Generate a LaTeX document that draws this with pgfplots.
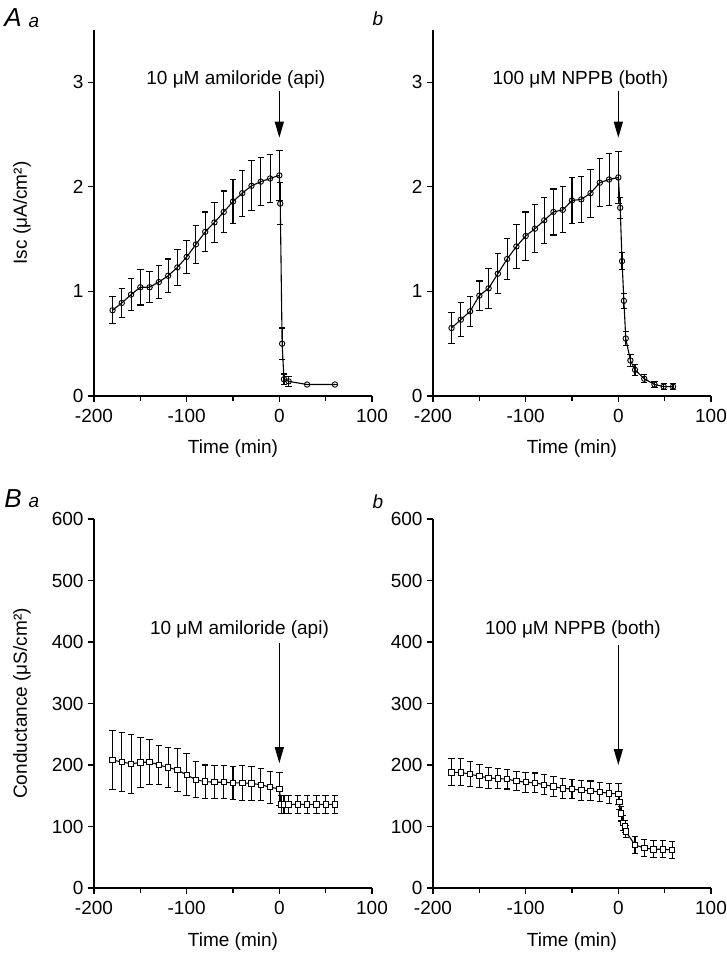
\documentclass[border=0pt]{standalone}
\usepackage{pgfplots}
\usepackage{pgfplotstable}
\pgfplotsset{compat=1.18}
\usepackage{fontspec}
\setmainfont{Liberation Sans}
\usetikzlibrary{arrows.meta}

\pgfplotstableread{
t v e
-180 0.82 0.13
-170 0.89 0.14
-160 0.97 0.15
-150 1.04 0.17
-140 1.04 0.15
-130 1.09 0.16
-120 1.15 0.16
-110 1.23 0.17
-100 1.33 0.16
-90 1.45 0.18
-80 1.57 0.19
-70 1.66 0.19
-60 1.76 0.20
-50 1.86 0.21
-40 1.94 0.22
-30 2.01 0.24
-20 2.05 0.23
-10 2.08 0.23
0 2.11 0.24
1 1.84 0.20
3 0.50 0.15
5 0.16 0.05
10 0.14 0.05
30 0.11 0.0
60 0.11 0.0
}\dataAa

\pgfplotstableread{
t v e
-180 0.65 0.15
-170 0.73 0.16
-160 0.81 0.145
-150 0.96 0.14
-140 1.03 0.19
-130 1.17 0.19
-120 1.31 0.20
-110 1.43 0.21
-100 1.53 0.23
-90 1.60 0.23
-80 1.68 0.22
-70 1.76 0.22
-60 1.78 0.22
-50 1.87 0.22
-40 1.88 0.22
-30 1.94 0.23
-20 2.04 0.23
-10 2.07 0.25
0 2.09 0.25
2 1.80 0.10
4 1.29 0.08
6 0.91 0.07
8 0.55 0.07
13 0.34 0.06
18 0.25 0.05
28 0.165 0.04
39 0.11 0.03
49 0.09 0.03
59 0.09 0.03
}\dataAb

\pgfplotstableread{
t v e
-180 208 48
-170 205 48
-160 202 48
-150 204 41
-140 205 37
-130 200 32
-120 196 33
-110 192 35
-100 184 34
-90 176 29
-80 173 27
-70 172 27
-60 172 27
-50 171 27
-40 171 28
-30 170 28
-20 168 26
-10 164 26
0 161 27
2 136 15
5 136 15
10 136 15
20 136 15
30 136 15
40 136 15
50 136 15
60 136 15
}\dataBa

\pgfplotstableread{
t v e
-180 188 22
-170 188 22
-160 185 20
-150 182 19
-140 179 17
-130 178 16
-120 177 16
-110 174 16
-100 172 16
-90 171 16
-80 168 16
-70 165 16
-60 162 16
-50 161 16
-40 159 16
-30 158 16
-20 156 16
-10 154 16
0 153 17
1 140 12
3 121 12
5 106 12
7 100 10
8 92 10
18 70 14
28 65 14
38 63 14
48 63 14
58 62 14
}\dataBb

\pgfplotsset{
 panel/.style={scale only axis, width=278pt, xmin=-200, xmax=100,
  axis x line*=bottom, axis y line*=left,
  axis line style={line width=1.1pt, -},
  tick align=outside, xtick={-200,-100,0,100}, xticklabels={-200,-100,0,100},
  minor xtick={-150,-50,50},
  major tick length=6pt, minor tick length=5pt,
  tick style={black, line width=1.1pt},
  tick label style={font=\fontsize{19}{22}\selectfont},
  xticklabel style={yshift=-4pt},
  yticklabel style={xshift=-1pt},
  /pgf/number format/assume math mode=true,
  xlabel={Time (min)}, clip=false,
  every axis y label/.style={at={(axis description cs:-0.259,0.5)}, rotate=90, anchor=center,
     font=\fontsize{19}{22}\selectfont},
  every axis x label/.style={at={(axis description cs:0.5,-0.145)}, anchor=center,
     font=\fontsize{19}{22}\selectfont},
 },
 series/.style={black, line width=1.1pt, mark=#1, mark size=2.7pt,
   mark options={fill=white, line width=0.9pt, solid},
   error bars/y dir=both, error bars/y explicit,
   error bars/error bar style={line width=1.1pt},
   error bars/error mark options={rotate=90, mark size=3.2pt, line width=1.1pt}},
}
\tikzset{
 annot/.style={font=\fontsize{19}{22}\selectfont, anchor=center},
 arr/.style={line width=1.2pt, -{Triangle[length=16pt,width=9pt]}},
}

\begin{document}
\begin{tikzpicture}
\useasboundingbox (0,0) rectangle (726pt,-967pt);

% panel letters
\node[font=\fontsize{26}{26}\selectfont\itshape] at (13pt,-18pt) {A};
\node[font=\fontsize{19}{22}\selectfont\itshape] at (34pt,-22pt) {a};
\node[font=\fontsize{19}{22}\selectfont\itshape] at (378pt,-19pt) {b};
\node[font=\fontsize{26}{26}\selectfont\itshape] at (13pt,-499pt) {B};
\node[font=\fontsize{19}{22}\selectfont\itshape] at (34pt,-502pt) {a};
\node[font=\fontsize{19}{22}\selectfont\itshape] at (378pt,-502pt) {b};

% A a
\begin{axis}[panel, at={(94pt,-396pt)}, anchor=south west, height=366pt,
  ymin=0, ymax=3.5, ytick={0,1,2,3}, yticklabels={0,1,2,3},
  ylabel={Isc (μA/cm²)}]
\addplot[series=o] table[x=t, y=v, y error=e] {\dataAa};
\node[annot] at (axis cs:-47,3.03) {10 μM amiloride (api)};
\draw[arr] (axis cs:0,2.92) -- (axis cs:0,2.47);
\end{axis}

% A b
\begin{axis}[panel, at={(433pt,-396pt)}, anchor=south west, height=366pt,
  ymin=0, ymax=3.5, ytick={0,1,2,3}, yticklabels={0,1,2,3}]
\addplot[series=o] table[x=t, y=v, y error=e] {\dataAb};
\node[annot] at (axis cs:-41,3.03) {100 μM NPPB (both)};
\draw[arr] (axis cs:0,2.92) -- (axis cs:0,2.47);
\end{axis}

% B a
\begin{axis}[panel, at={(94pt,-888pt)}, anchor=south west, height=369pt,
  ymin=0, ymax=600, ytick={0,100,200,300,400,500,600},
  yticklabels={0,100,200,300,400,500,600},
  ylabel={Conductance (μS/cm²)}]
\addplot[series=square*] table[x=t, y=v, y error=e] {\dataBa};
\node[annot] at (axis cs:-43,421) {10 μM amiloride (api)};
\draw[arr] (axis cs:0,398) -- (axis cs:0,203);
\end{axis}

% B b
\begin{axis}[panel, at={(433pt,-888pt)}, anchor=south west, height=369pt,
  ymin=0, ymax=600, ytick={0,100,200,300,400,500,600},
  yticklabels={0,100,200,300,400,500,600}]
\addplot[series=square*] table[x=t, y=v, y error=e] {\dataBb};
\node[annot] at (axis cs:-49,421) {100 μM NPPB (both)};
\draw[arr] (axis cs:0,395) -- (axis cs:0,200);
\end{axis}
\end{tikzpicture}
\end{document}
